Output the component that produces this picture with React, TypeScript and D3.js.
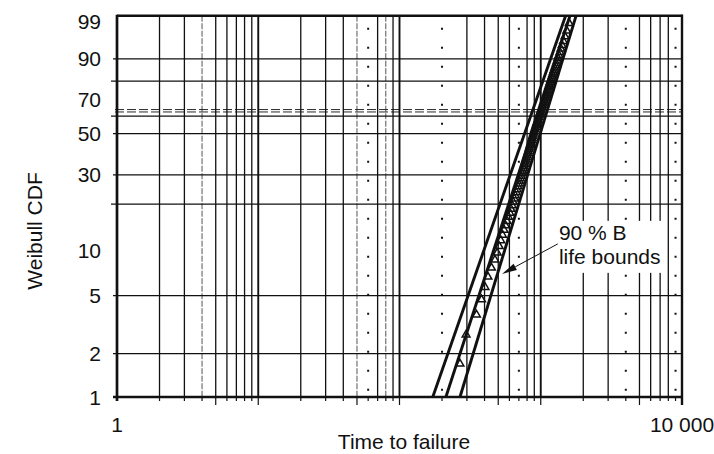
import React from "react";
import * as d3 from "d3";

// Failure data: cumulative percent failed (median ranks) and time to failure
const failurePct = [
  1.7, 2.7, 3.7, 4.7, 5.7, 6.7, 7.7, 8.7, 9.7, 10.7,
  11.7, 12.7, 13.7, 14.6, 15.6, 16.6, 17.6, 18.6, 19.6, 20.6,
  21.6, 22.6, 23.6, 24.6, 25.6, 26.6, 27.6, 28.6, 29.6, 30.6,
  31.6, 32.6, 33.6, 34.6, 35.6, 36.6, 37.6, 38.6, 39.5, 40.5,
  41.5, 42.5, 43.5, 44.5, 45.5, 46.5, 47.5, 48.5, 49.5, 50.5,
  51.5, 52.5, 53.5, 54.5, 55.5, 56.5, 57.5, 58.5, 59.5, 60.5,
  61.5, 62.5, 63.4, 64.4, 65.4, 66.4, 67.4, 68.4, 69.4, 70.4,
  71.4, 72.4, 73.4, 74.4, 75.4, 76.4, 77.4, 78.4, 79.4, 80.4,
  81.4, 82.4, 83.4, 84.4, 85.4, 86.4, 87.4, 88.3, 89.3, 90.3,
  91.3, 92.3, 93.3, 94.3, 95.3, 96.3, 97.3, 98.3,
];
const failureTime = [
  268, 296, 351, 381, 403, 423, 448, 474, 492, 508,
  521, 536, 550, 564, 578, 591, 604, 616, 628, 639,
  650, 660, 671, 680, 690, 699, 708, 717, 726, 735,
  743, 752, 760, 769, 777, 785, 792, 800, 808, 816,
  824, 831, 838, 846, 854, 861, 868, 876, 883, 891,
  898, 907, 916, 924, 932, 941, 950, 958, 967, 976,
  984, 993, 1003, 1011, 1020, 1030, 1039, 1048, 1058, 1067,
  1078, 1087, 1097, 1108, 1118, 1129, 1140, 1151, 1163, 1175,
  1188, 1200, 1213, 1226, 1241, 1256, 1272, 1288, 1305, 1324,
  1344, 1366, 1390, 1416, 1447, 1484, 1529, 1591,
];

// Fitted Weibull line and 90 % B-life bounds (percent failed -> time)
const linePct = [1, 99];
const lowerBoundTime = [172, 1500];
const fitTime = [213, 1611];
const upperBoundTime = [268, 1780];

// Axis labels and grid
const pctTickLabels = [99, 90, 70, 50, 30, 10, 5, 2, 1];
const pctGrid = [90, 80, 60, 50, 30, 20, 5, 2];
const pctGridLong = [80, 60, 20];
const characteristicPct = 63.2;
const timeDomain = [1, 10000];
const timeLabels = [
  { t: 1, text: "1" },
  { t: 10000, text: "10 000" },
];
const majorTimes = [10, 100, 1000];
const faintTimes = [4, 50, 80];
const dottedTimes = [60, 200, 700, 4000, 9000];
const longTickTimes = [5, 10, 50, 100, 500, 1000, 5000];

// Annotation anchor (time, percent failed) and arrow target
const annotation = { t: 1345, pct: 11.8, lines: ["90 % B", "life bounds"] };
const arrowFrom = { t: 1320, pct: 11.1 };
const arrowTo = { t: 532, pct: 7.0 };

const weibull = (p: number) => Math.log(-Math.log(1 - p / 100));

const FONT = "'Liberation Sans', Arial, Helvetica, sans-serif";
const INK = "#111";

export default function App() {
  const left = 117;
  const right = 682;
  const top = 15.7;
  const bottom = 397;

  const x = d3.scaleLog().domain(timeDomain).range([left, right]);
  const y = d3
    .scaleLinear()
    .domain([weibull(1), weibull(99)])
    .range([bottom, top]);

  const gridTimes = x.ticks().filter((t) => t > 1 && t < 10000);

  const line = d3
    .line<[number, number]>()
    .x((d) => x(d[0]))
    .y((d) => y(weibull(d[1])));

  const series = [lowerBoundTime, fitTime, upperBoundTime].map((times) =>
    times.map((t, i) => [t, linePct[i]] as [number, number])
  );

  const points = failureTime
    .slice(0, Math.min(failureTime.length, failurePct.length))
    .map((t, i) => ({ t, p: failurePct[i] }));

  const tri = d3.symbol().type(d3.symbolTriangle).size(26)() as string;

  const yc = y(weibull(characteristicPct));

  const ax = x(annotation.t);
  const ay = y(weibull(annotation.pct));

  const x1 = x(arrowFrom.t);
  const y1 = y(weibull(arrowFrom.pct));
  const x2 = x(arrowTo.t);
  const y2 = y(weibull(arrowTo.pct));
  const ang = Math.atan2(y2 - y1, x2 - x1);
  const headLen = 15;
  const headHalf = 3.5;
  const bx = x2 - headLen * Math.cos(ang);
  const by = y2 - headLen * Math.sin(ang);
  const nx = -Math.sin(ang);
  const ny = Math.cos(ang);

  return (
    <svg
      width={714}
      height={454}
      style={{ position: "absolute", left: 0, top: 0, background: "#fff" }}
      fontFamily={FONT}
    >
      <rect x={0} y={0} width={714} height={454} fill="#fff" />

      {/* vertical grid */}
      {gridTimes.map((t) => {
        const xx = x(t);
        if (dottedTimes.includes(t)) {
          return (
            <line
              key={"v" + t}
              x1={xx}
              x2={xx}
              y1={top}
              y2={bottom}
              stroke={INK}
              strokeWidth={2}
              strokeDasharray="2 17"
              strokeDashoffset={-12}
            />
          );
        }
        if (faintTimes.includes(t)) {
          return (
            <line
              key={"v" + t}
              x1={xx}
              x2={xx}
              y1={top}
              y2={bottom}
              stroke="#555"
              strokeWidth={1}
              strokeDasharray="6 1.5"
            />
          );
        }
        return (
          <line
            key={"v" + t}
            x1={xx}
            x2={xx}
            y1={top}
            y2={bottom}
            stroke={INK}
            strokeWidth={majorTimes.includes(t) ? 1.9 : 1.3}
          />
        );
      })}

      {/* ticks below the time axis */}
      {[1, ...gridTimes].map((t) => (
        <line
          key={"bt" + t}
          x1={x(t)}
          x2={x(t)}
          y1={bottom}
          y2={bottom + (longTickTimes.includes(t) ? 8 : 4)}
          stroke={INK}
          strokeWidth={1.2}
        />
      ))}

      {/* horizontal grid */}
      {pctGrid.map((p) => (
        <line
          key={"h" + p}
          x1={pctGridLong.includes(p) ? left - 6 : left - 4}
          x2={right}
          y1={y(weibull(p))}
          y2={y(weibull(p))}
          stroke={INK}
          strokeWidth={1.3}
        />
      ))}

      {/* characteristic life (63.2 %) double dashed line */}
      {[-1.2, 1.2].map((o) => (
        <line
          key={"c" + o}
          x1={left - 2}
          x2={right}
          y1={yc + o}
          y2={yc + o}
          stroke={INK}
          strokeWidth={0.9}
          strokeDasharray="9 3"
        />
      ))}

      {/* annotation box */}
      <rect x={ax - 4} y={ay - 19} width={108} height={52} fill="#fff" />

      {/* fitted line and B-life bounds */}
      {series.map((s, i) => (
        <path
          key={"s" + i}
          d={line(s) as string}
          fill="none"
          stroke={INK}
          strokeWidth={2.9}
        />
      ))}

      {/* failure points */}
      {points.map((d, i) => (
        <path
          key={"p" + i}
          d={tri}
          transform={`translate(${x(d.t)},${y(weibull(d.p))})`}
          fill="none"
          stroke={INK}
          strokeWidth={1.5}
        />
      ))}

      {/* annotation text and arrow */}
      {annotation.lines.map((s, i) => (
        <text key={"a" + i} x={ax} y={ay + i * 24} fontSize={21} fill={INK}>
          {s}
        </text>
      ))}
      <line x1={x1} y1={y1} x2={bx} y2={by} stroke={INK} strokeWidth={1} />
      <path
        d={`M${x2},${y2}L${bx + nx * headHalf},${by + ny * headHalf}L${bx - nx * headHalf},${by - ny * headHalf}Z`}
        fill={INK}
      />

      {/* plot frame */}
      <line x1={left - 4} x2={right + 1} y1={bottom} y2={bottom} stroke={INK} strokeWidth={2.7} />
      <line x1={left} x2={left} y1={top - 1} y2={bottom + 4} stroke={INK} strokeWidth={2.7} />
      <line x1={left} x2={right + 1} y1={top} y2={top} stroke={INK} strokeWidth={2.5} />
      <line x1={right} x2={right} y1={top - 1} y2={bottom + 8} stroke={INK} strokeWidth={2.4} />

      {/* percent labels */}
      {pctTickLabels.map((p) => (
        <text
          key={"yl" + p}
          x={101}
          y={Math.max(y(weibull(p)), top + 5.5)}
          dy="0.36em"
          textAnchor="end"
          fontSize={21}
          fill={INK}
        >
          {p}
        </text>
      ))}

      {/* time labels */}
      {timeLabels.map((d) => (
        <text
          key={"xl" + d.t}
          x={x(d.t)}
          y={432}
          textAnchor="middle"
          fontSize={21}
          fill={INK}
        >
          {d.text}
        </text>
      ))}

      <text x={404} y={449} textAnchor="middle" fontSize={21} fill={INK}>
        Time to failure
      </text>
      <text
        transform="translate(42,231) rotate(-90)"
        textAnchor="middle"
        fontSize={21}
        fill={INK}
      >
        Weibull CDF
      </text>
    </svg>
  );
}
